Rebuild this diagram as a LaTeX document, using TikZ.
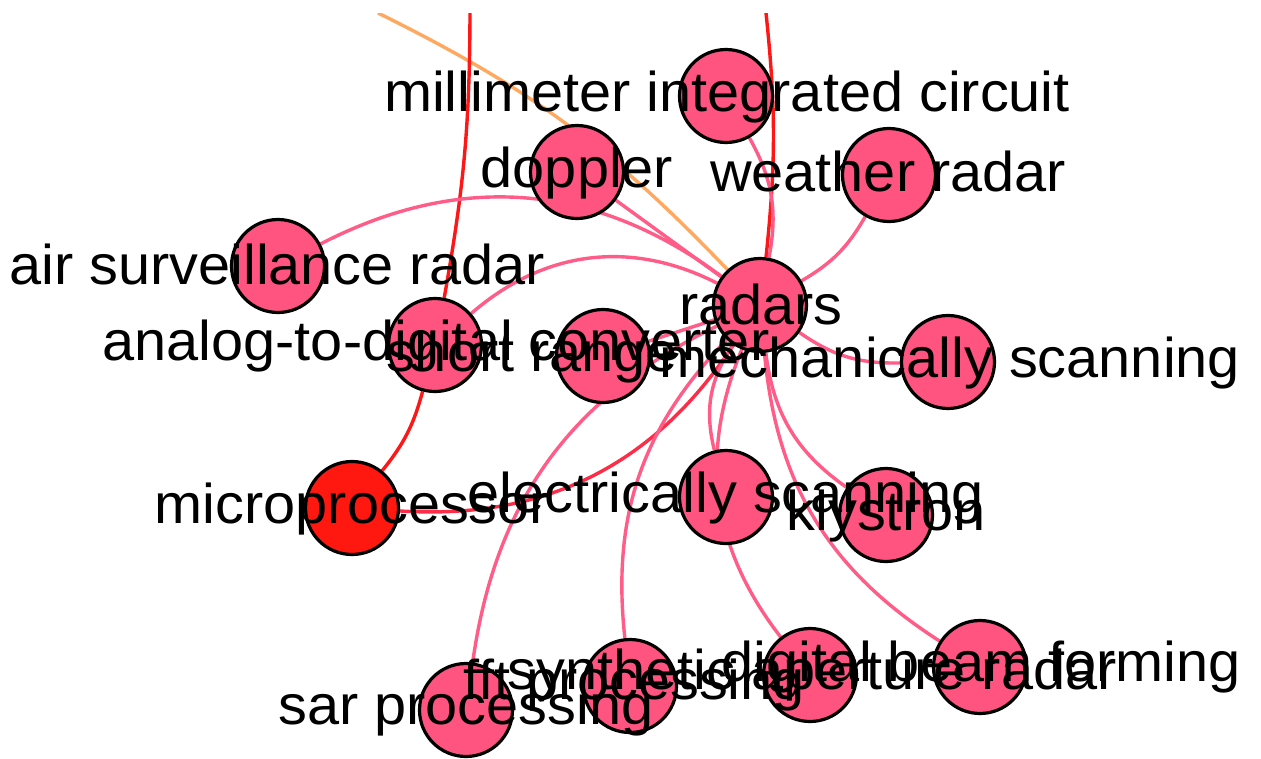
\documentclass[tikz,border=0pt]{standalone}
\usepackage{fontspec}
\setmainfont{Liberation Sans}[FakeStretch=1.03]

\definecolor{nodepink}{RGB}{255,84,128}
\definecolor{nodered}{RGB}{255,24,16}
\definecolor{edgepink}{RGB}{255,92,136}
\definecolor{edgered}{RGB}{255,22,22}
\definecolor{edgemix}{RGB}{255,44,72}
\definecolor{edgeorange}{RGB}{255,168,96}

\pgfdeclarelayer{edgelayer}
\pgfsetlayers{edgelayer,main}

\begin{document}
\begin{tikzpicture}[x=1pt,y=-1pt,
  vtx/.style={circle, draw=black, line width=3.2pt, fill=nodepink,
              minimum size=93pt, inner sep=0pt},
  hub/.style={vtx, fill=nodered},
  lbl/.style={anchor=base, inner sep=0pt, font=\fontsize{56}{60}\selectfont},
  pedge/.style={draw=edgepink, line width=3.4pt},
  redge/.style={draw=edgered, line width=3.4pt},
  medge/.style={draw=edgemix, line width=3.4pt},
  oedge/.style={draw=edgeorange, line width=3.4pt}
]
\useasboundingbox (0,0) rectangle (1261,758);

% vertices
\node[vtx] (mil) at (726,96)  {};
\node[vtx] (dop) at (577,172) {};
\node[vtx] (wea) at (889,175) {};
\node[vtx] (air) at (278,266) {};
\node[vtx] (rad) at (760,305) {};
\node[vtx] (adc) at (435,345) {};
\node[vtx] (sho) at (603,356) {};
\node[vtx] (mec) at (948,362) {};
\node[hub] (mic) at (352,508) {};
\node[vtx] (ele) at (726,497) {};
\node[vtx] (kly) at (886,515) {};
\node[vtx] (sar) at (466,710) {};
\node[vtx] (fft) at (630,686) {};
\node[vtx] (syn) at (810,675) {};
\node[vtx] (dbf) at (980,667) {};

% loose ends of edges leaving the top of the frame
\coordinate (topA) at (378,13);
\coordinate (topB) at (470,13);
\coordinate (topC) at (766,13);

% edges, drawn beneath the vertices
\begin{pgfonlayer}{edgelayer}
\begin{scope}
\clip (0,13) rectangle (1261,758);
\draw[oedge] (topA) to[bend left=10] (rad);
\draw[redge] (topB) to[bend left=5] (adc);
\draw[redge] (topC) to[bend left=6] (rad);
\draw[redge] (adc) to[bend left=12] (mic);
\draw[medge] (mic) to[bend right=30] (rad);
\draw[pedge] (dop) -- (rad);
\draw[pedge] (mil) to[bend left=20] (rad);
\draw[pedge] (wea) to[bend left=15] (rad);
\draw[pedge] (air) to[bend left=32] (rad);
\draw[pedge] (adc) to[bend left=34] (rad);
\draw[pedge] (rad) -- (sho);
\draw[pedge] (rad) to[bend right=18] (mec);
\draw[pedge] (rad) to[bend right=24] (ele);
\draw[pedge] (rad) to[bend right=30] (syn);
\draw[pedge] (rad) to[bend right=24] (kly);
\draw[pedge] (rad) to[bend right=26] (dbf);
\draw[pedge] (rad) to[bend right=25] (fft);
\draw[pedge] (rad) to[bend right=28] (sar);
\end{scope}
\end{pgfonlayer}

% labels, drawn over everything
\node[lbl] (milL) at (727,111) {millimeter integrated circuit};
\node[lbl] (dopL) at (577,187) {doppler};
\node[lbl] (weaL) at (888,191) {weather radar};
\node[lbl] (airL) at (277,284) {air surveillance radar};
\node[lbl] (radL) at (761,324) {radars};
\node[lbl] (adcL) at (436,360) {analog-to-digital converter};
\node[lbl] (shoL) at (532,371) {short range};
\node[lbl] (mecL) at (950,377) {mechanically scanning};
\node[lbl] (micL) at (352,523) {microprocessor};
\node[lbl] (eleL) at (726,512) {electrically scanning};
\node[lbl] (klyL) at (886,530) {klystron};
\node[lbl] (sarL) at (466,724) {sar processing};
\node[lbl] (fftL) at (634,699) {fft processing};
\node[lbl] (synL) at (812,689) {synthetic aperture radar};
\node[lbl] (dbfL) at (981,681) {digital beam forming};
\end{tikzpicture}
\end{document}
